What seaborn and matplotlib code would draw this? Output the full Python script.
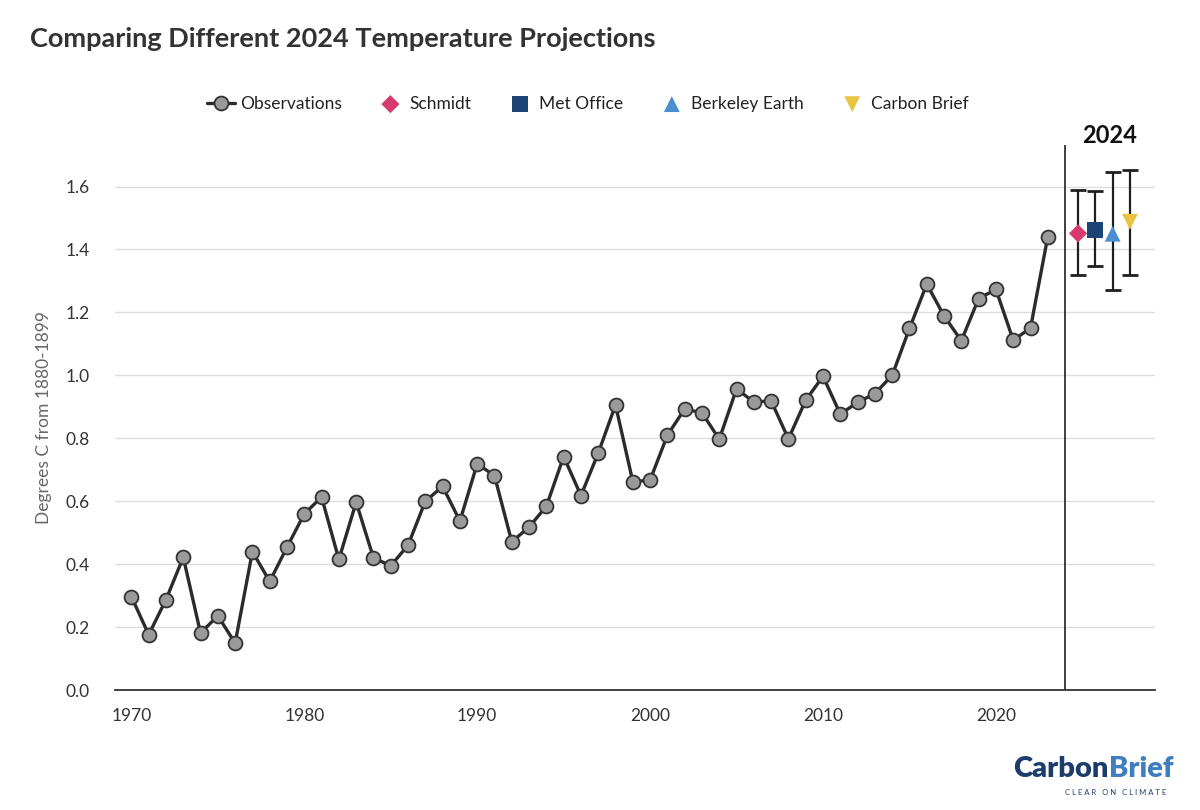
import numpy as np
import pandas as pd
import matplotlib
matplotlib.use("Agg")
import matplotlib.pyplot as plt
import seaborn as sns

# Observed annual temperature anomalies (degrees C from 1880-1899)
years = list(range(1970, 2024))
observations = [
    0.297, 0.176, 0.287, 0.422, 0.181, 0.236, 0.149, 0.440, 0.345, 0.454,
    0.560, 0.613, 0.415, 0.597, 0.420, 0.395, 0.460, 0.600, 0.647, 0.537,
    0.719, 0.681, 0.471, 0.518, 0.584, 0.742, 0.618, 0.753, 0.906, 0.662,
    0.667, 0.810, 0.893, 0.881, 0.797, 0.957, 0.915, 0.919, 0.798, 0.921,
    0.997, 0.877, 0.914, 0.942, 1.000, 1.149, 1.290, 1.189, 1.110, 1.244,
    1.273, 1.112, 1.150, 1.441,
]

# 2024 projections with uncertainty ranges
proj_names = ["Schmidt", "Met Office", "Berkeley Earth", "Carbon Brief"]
proj_x = [2024.75, 2025.75, 2026.75, 2027.75]
proj_mid = [1.451, 1.462, 1.450, 1.488]
proj_low = [1.319, 1.347, 1.271, 1.319]
proj_high = [1.589, 1.585, 1.645, 1.654]
proj_colors = ["#d83a6b", "#1c4474", "#4a8fd2", "#e9c443"]
proj_markers = ["D", "s", "^", "v"]
proj_sizes = [85, 130, 130, 130]

obs = pd.DataFrame({"year": years, "temp": observations})

sns.set_style("white")
plt.rcParams["font.family"] = ["Lato", "DejaVu Sans"]

fig = plt.figure(figsize=(12, 8.1), dpi=100)
ax = fig.add_axes([0.0958, 0.1481, 0.8667, 0.6729])

sns.lineplot(data=obs, x="year", y="temp", ax=ax, color="#2b2b2b", lw=2.4,
             marker="o", markersize=10, markerfacecolor="#9a9a9a",
             markeredgecolor="#333333", markeredgewidth=1.3,
             label="Observations", zorder=3)

for name, x, m, lo, hi, c, mk, s in zip(proj_names, proj_x, proj_mid, proj_low,
                                        proj_high, proj_colors, proj_markers, proj_sizes):
    ax.errorbar(x, m, yerr=[[m - lo], [hi - m]], fmt="none", ecolor="#1f1f1f",
                elinewidth=1.6, capsize=6, capthick=2, zorder=2)
    sns.scatterplot(x=[x], y=[m], ax=ax, color=c, marker=mk, s=s,
                    edgecolor="none", label=name, zorder=4)

ax.axvline(2024, color="#1f1f1f", lw=1.2, zorder=1)
ax.text(2026.6, 1.762, "2024", ha="center", va="center", fontsize=17,
        fontweight="bold", color="#111111", clip_on=False)

ax.set_xlim(1969.05, 2029.2)
ax.set_ylim(0, 1.732)
ax.set_xticks([1970, 1980, 1990, 2000, 2010, 2020])
ax.set_yticks(np.arange(0, 1.61, 0.2))
ax.set_yticklabels([f"{v:.1f}" for v in np.arange(0, 1.61, 0.2)])
ax.yaxis.grid(True, color="#dddddd", lw=1)
ax.set_axisbelow(True)
for side in ["top", "right", "left"]:
    ax.spines[side].set_visible(False)
ax.spines["bottom"].set_color("#333333")
ax.spines["bottom"].set_linewidth(1.3)
ax.tick_params(axis="x", direction="out", length=7, width=1.2, color="#333333",
               labelsize=12.5, labelcolor="#333333", pad=6)
ax.tick_params(axis="y", length=0, labelsize=12.5, labelcolor="#333333", pad=18)
ax.set_xlabel("")
ax.set_ylabel("Degrees C from 1880-1899", fontsize=12.5, color="#666666", labelpad=10)

handles, labels = ax.get_legend_handles_labels()
ax.legend(handles, labels, loc="center", bbox_to_anchor=(0.49, 0.872),
          bbox_transform=fig.transFigure, ncol=5, frameon=False, fontsize=12.5,
          handletextpad=0.3, columnspacing=2.0, handlelength=1.6, labelcolor="#222222")

fig.text(0.025, 0.952, "Comparing Different 2024 Temperature Projections",
         fontsize=19.5, fontweight="bold", color="#333333", va="center", ha="left")

# Carbon Brief wordmark
logo_font = dict(fontsize=21, fontweight="heavy", va="center")
fig.text(0.924, 0.051, "Carbon", color="#1c3d6b", ha="right", **logo_font)
fig.text(0.924, 0.051, "Brief", color="#3f7fc0", ha="left", **logo_font)
fig.text(0.93, 0.021, "C L E A R   O N   C L I M A T E", fontsize=5.5,
         color="#1c3d6b", ha="center", va="center")

fig.savefig("out.png", dpi=100)
